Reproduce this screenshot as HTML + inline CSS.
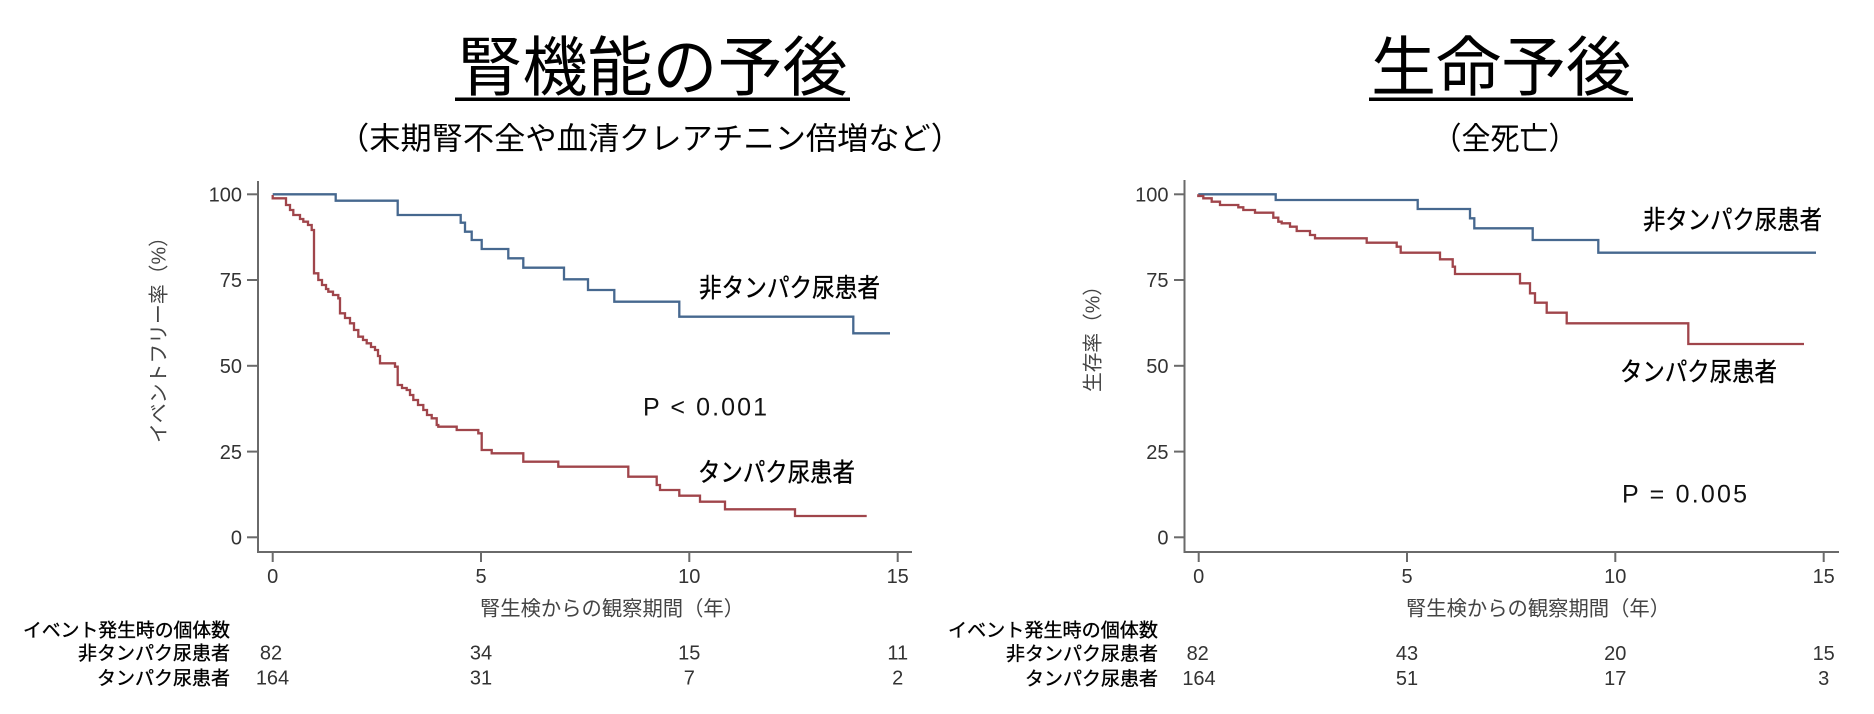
<!DOCTYPE html>
<html>
<head>
<meta charset="utf-8">
<style>
  html, body { margin:0; padding:0; background:#ffffff; }
  body { width:1874px; height:714px; overflow:hidden; }
  svg { display:block; }
  .jp { font-family: "Liberation Sans", "Noto Sans CJK JP", sans-serif; }
  .num { font-family: "Liberation Sans", "DejaVu Sans", sans-serif; }
  .bold { stroke:#000; stroke-width:0.35; }
</style>
</head>
<body>
<svg width="1874" height="714" viewBox="0 0 1874 714" xmlns="http://www.w3.org/2000/svg">
  <rect x="0" y="0" width="1874" height="714" fill="#ffffff"/>

  <!-- ===== Titles ===== -->
  <text class="jp" x="652.5" y="90" font-size="65" text-anchor="middle" fill="#000" textLength="390" lengthAdjust="spacingAndGlyphs">腎機能の予後</text>
  <rect x="455" y="97.5" width="395" height="3.5" fill="#000"/>
  <text class="jp" x="650" y="149.5" font-size="31" text-anchor="middle" fill="#000" textLength="624" lengthAdjust="spacingAndGlyphs">（末期腎不全や血清クレアチニン倍増など）</text>

  <text class="jp" x="1501" y="90" font-size="65" text-anchor="middle" fill="#000" textLength="260" lengthAdjust="spacingAndGlyphs">生命予後</text>
  <rect x="1369" y="97.5" width="264" height="3.5" fill="#000"/>
  <text class="jp" x="1505" y="149.5" font-size="31" text-anchor="middle" fill="#000" textLength="145" lengthAdjust="spacingAndGlyphs">（全死亡）</text>

  <!-- ===== LEFT CHART ===== -->
  <g stroke="#6a6a6a" stroke-width="2" fill="none">
    <line x1="258" y1="181" x2="258" y2="553"/>
    <line x1="257" y1="552" x2="912" y2="552"/>
    <line x1="247" y1="194.3" x2="258" y2="194.3"/>
    <line x1="247" y1="280" x2="258" y2="280"/>
    <line x1="247" y1="365.8" x2="258" y2="365.8"/>
    <line x1="247" y1="451.6" x2="258" y2="451.6"/>
    <line x1="247" y1="537.3" x2="258" y2="537.3"/>
    <line x1="272.7" y1="552" x2="272.7" y2="562"/>
    <line x1="481" y1="552" x2="481" y2="562"/>
    <line x1="689.3" y1="552" x2="689.3" y2="562"/>
    <line x1="897.7" y1="552" x2="897.7" y2="562"/>
  </g>
  <g class="num" font-size="20" fill="#333" text-anchor="end">
    <text x="242" y="201.5">100</text>
    <text x="242" y="287.2">75</text>
    <text x="242" y="373">50</text>
    <text x="242" y="458.8">25</text>
    <text x="242" y="544.5">0</text>
  </g>
  <g class="num" font-size="20" fill="#333" text-anchor="middle">
    <text x="272.7" y="583">0</text>
    <text x="481" y="583">5</text>
    <text x="689.3" y="583">10</text>
    <text x="897.7" y="583">15</text>
  </g>
  <text class="jp" x="612" y="615.5" font-size="20.5" fill="#444" text-anchor="middle" textLength="264" lengthAdjust="spacingAndGlyphs">腎生検からの観察期間（年）</text>
  <text class="jp" transform="translate(165.5,335) rotate(-90)" x="0" y="0" font-size="20" fill="#444" text-anchor="middle" textLength="216" lengthAdjust="spacingAndGlyphs">イベントフリー率（%）</text>

  <!-- left curves -->
  <path d="M272.7,194.3 H335.7 V200.7 H397.7 V215 H460.7 V222.7 H465 V231.7 H471.7 V240 H481.7 V249 H508.3 V258.3 H523.3 V267.7 H564 V279.3 H588 V290 H614.3 V301.7 H679.3 V316.7 H853.3 V333.3 H890"
        fill="none" stroke="#46688f" stroke-width="2.3"/>
  <path d="M272.7,195 V198.3 H286 V205 H290 V210 H293.3 V215 H300 V219 H303.3 V221.7 H308 V225 H311.7 V230 H314 V273.3 H318.3 V280 H322 V285 H326 V289 H328.3 V291.7 H333 V295 H338.3 V298.3 H340 V313.3 H345 V318 H350 V323.3 H354 V330 H358.3 V336.7 H363 V340 H366.7 V343.3 H371 V347 H375 V350 H378 V356 H380 V363.3 H395 V366.7 H397.7 V385 H402 V388 H406.7 V390 H410 V395 H413.3 V400 H418 V405 H423.3 V410 H427 V415 H431.7 V418.3 H436.7 V425 H438.3 V426.7 H456.7 V430 H478.3 V433.3 H481.7 V450 H491.7 V453.3 H523.3 V461.7 H558.3 V466.7 H628.3 V476.7 H656.7 V485 H660 V490 H679.3 V495.7 H700 V501.7 H725 V509.3 H795 V516 H866.7"
        fill="none" stroke="#a0454b" stroke-width="2.3"/>

  <text class="jp bold" x="699" y="297" font-size="26" fill="#000" textLength="181" lengthAdjust="spacingAndGlyphs">非タンパク尿患者</text>
  <text class="jp bold" x="698" y="481.5" font-size="26" fill="#000" textLength="157" lengthAdjust="spacingAndGlyphs">タンパク尿患者</text>
  <text class="num" x="643" y="415.5" font-size="25" fill="#111" textLength="124" lengthAdjust="spacing">P &lt; 0.001</text>

  <!-- left risk table -->
  <g class="jp bold" font-size="19" fill="#000">
    <text x="23" y="636.5" textLength="207" lengthAdjust="spacingAndGlyphs">イベント発生時の個体数</text>
    <text x="230" y="659.5" text-anchor="end">非タンパク尿患者</text>
    <text x="230" y="684.5" text-anchor="end">タンパク尿患者</text>
  </g>
  <g class="num" font-size="20" fill="#333" text-anchor="middle">
    <text x="271" y="659.5">82</text>
    <text x="481" y="659.5">34</text>
    <text x="689.3" y="659.5">15</text>
    <text x="897.7" y="659.5">11</text>
    <text x="272.5" y="684.5">164</text>
    <text x="481" y="684.5">31</text>
    <text x="689.3" y="684.5">7</text>
    <text x="897.7" y="684.5">2</text>
  </g>

  <!-- ===== RIGHT CHART ===== -->
  <g stroke="#6a6a6a" stroke-width="2" fill="none">
    <line x1="1184.5" y1="180" x2="1184.5" y2="553"/>
    <line x1="1183.5" y1="552" x2="1839" y2="552"/>
    <line x1="1174" y1="194.3" x2="1184.5" y2="194.3"/>
    <line x1="1174" y1="280" x2="1184.5" y2="280"/>
    <line x1="1174" y1="365.8" x2="1184.5" y2="365.8"/>
    <line x1="1174" y1="451.6" x2="1184.5" y2="451.6"/>
    <line x1="1174" y1="537.3" x2="1184.5" y2="537.3"/>
    <line x1="1198.7" y1="552" x2="1198.7" y2="562"/>
    <line x1="1407" y1="552" x2="1407" y2="562"/>
    <line x1="1615.3" y1="552" x2="1615.3" y2="562"/>
    <line x1="1823.7" y1="552" x2="1823.7" y2="562"/>
  </g>
  <g class="num" font-size="20" fill="#333" text-anchor="end">
    <text x="1168.5" y="201.5">100</text>
    <text x="1168.5" y="287.2">75</text>
    <text x="1168.5" y="373">50</text>
    <text x="1168.5" y="458.8">25</text>
    <text x="1168.5" y="544.5">0</text>
  </g>
  <g class="num" font-size="20" fill="#333" text-anchor="middle">
    <text x="1198.7" y="583">0</text>
    <text x="1407" y="583">5</text>
    <text x="1615.3" y="583">10</text>
    <text x="1823.7" y="583">15</text>
  </g>
  <text class="jp" x="1538" y="615.5" font-size="20.5" fill="#444" text-anchor="middle" textLength="264" lengthAdjust="spacingAndGlyphs">腎生検からの観察期間（年）</text>
  <text class="jp" transform="translate(1099.5,334) rotate(-90)" x="0" y="0" font-size="20" fill="#444" text-anchor="middle" textLength="116" lengthAdjust="spacingAndGlyphs">生存率（%）</text>

  <!-- right curves -->
  <path d="M1198.3,194.3 H1275.7 V200 H1417.7 V209 H1470 V218.3 H1474.3 V228.3 H1532.7 V240 H1598.3 V252.7 H1816"
        fill="none" stroke="#46688f" stroke-width="2.3"/>
  <path d="M1198.3,194.3 V196 H1203.3 V198.3 H1211.7 V201.7 H1220 V205 H1238.3 V207.3 H1243.3 V210 H1255 V212.7 H1273.3 V217.7 H1278.3 V221.7 H1281.7 V223.3 H1290 V226.7 H1296.7 V231 H1310 V235 H1315 V238.3 H1366.7 V242.7 H1396.7 V246.7 H1400.7 V252.7 H1440 V259.3 H1452.7 V266.7 H1455 V274 H1520 V283.3 H1530 V293.3 H1535 V302.7 H1546.7 V312.7 H1566.7 V323.3 H1688.3 V344 H1804"
        fill="none" stroke="#a0454b" stroke-width="2.3"/>

  <text class="jp bold" x="1643" y="229" font-size="26" fill="#000" textLength="179" lengthAdjust="spacingAndGlyphs">非タンパク尿患者</text>
  <text class="jp bold" x="1620" y="381" font-size="26" fill="#000" textLength="157" lengthAdjust="spacingAndGlyphs">タンパク尿患者</text>
  <text class="num" x="1622" y="502.5" font-size="25" fill="#111" textLength="125" lengthAdjust="spacing">P = 0.005</text>

  <!-- right risk table -->
  <g class="jp bold" font-size="19" fill="#000">
    <text x="948" y="636.5" textLength="210" lengthAdjust="spacingAndGlyphs">イベント発生時の個体数</text>
    <text x="1158" y="660" text-anchor="end">非タンパク尿患者</text>
    <text x="1158" y="685" text-anchor="end">タンパク尿患者</text>
  </g>
  <g class="num" font-size="20" fill="#333" text-anchor="middle">
    <text x="1197.7" y="660">82</text>
    <text x="1407" y="660">43</text>
    <text x="1615.3" y="660">20</text>
    <text x="1823.7" y="660">15</text>
    <text x="1199" y="685">164</text>
    <text x="1407" y="685">51</text>
    <text x="1615.3" y="685">17</text>
    <text x="1823.7" y="685">3</text>
  </g>
</svg>
</body>
</html>
